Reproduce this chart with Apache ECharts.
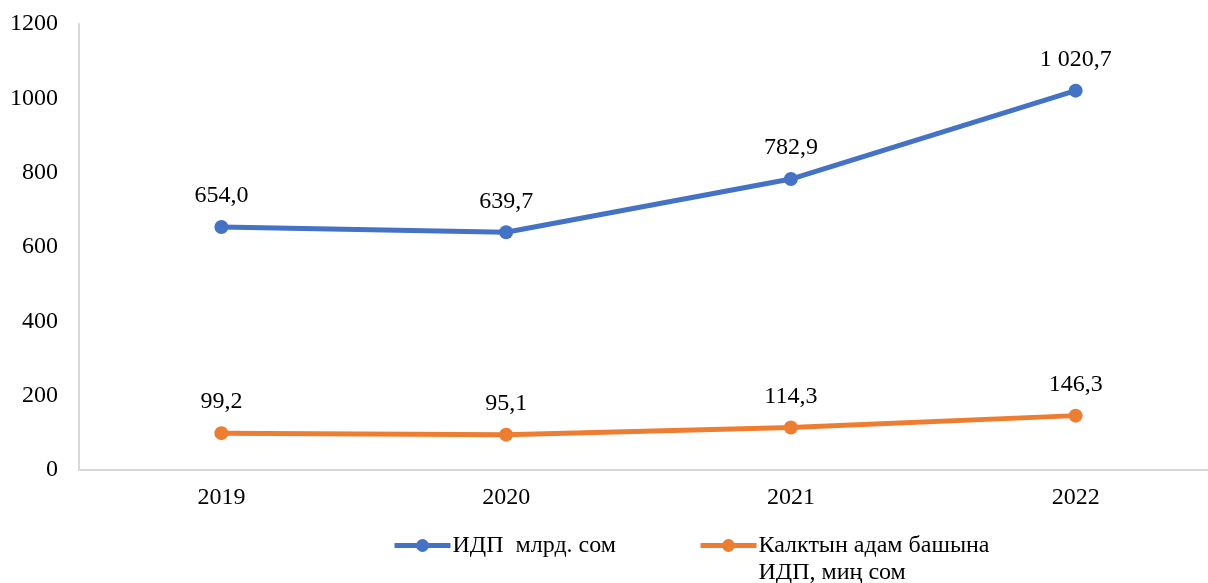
<!DOCTYPE html>
<html>
<head>
<meta charset="utf-8">
<script src="https://cdn.jsdelivr.net/npm/echarts@6/dist/echarts.min.js"></script>
<style>
    html, body { margin: 0; padding: 0; background: #fff; }
    #chart { width: 1208px; height: 583px; }
</style>
</head>
<body>
<div id="chart"></div>
<script>
// данные
var years = ['2019', '2020', '2021', '2022'];
var gdpTotal = [654.0, 639.7, 782.9, 1020.7];      // ИДП млрд. сом
var gdpPerCapita = [99.2, 95.1, 114.3, 146.3];     // миң сом
var yTicks = [0, 200, 400, 600, 800, 1000, 1200];

var nameTotal = 'ИДП  млрд. сом';
var namePerCapita = 'Калктын адам башына';

var font = '"Liberation Serif", "Times New Roman", serif';

function fmt(v) {
    var s = v.toFixed(1).split('.');
    var intPart = s[0].replace(/\B(?=(\d{3})+(?!\d))/g, ' ');
    return intPart + ',' + s[1];
}

var chart = echarts.init(document.getElementById('chart'));

var option = {
    animation: false,
    backgroundColor: '#fff',
    color: ['#4472C4', '#ED7D31'],
    grid: {
        left: 79,
        width: 1139,
        top: 24,
        bottom: 113,
        outerBoundsMode: 'none'
    },
    legend: [{
        data: [nameTotal],
        left: 387,
        top: 527,
        itemWidth: 56,
        itemHeight: 16,
        lineStyle: { width: 5 },
        textStyle: { fontFamily: font, fontSize: 24, color: '#000', lineHeight: 27, padding: [0, 0, 0, -3] }
    }, {
        data: [namePerCapita],
        left: 693,
        top: 500,
        itemWidth: 56,
        itemHeight: 16,
        lineStyle: { width: 5 },
        formatter: function() {
            return '\n' + namePerCapita + '\nИДП, миң сом';
        },
        textStyle: { fontFamily: font, fontSize: 24, color: '#000', lineHeight: 27, padding: [0, 0, 0, -3] }
    }],
    xAxis: {
        type: 'category',
        data: years,
        boundaryGap: true,
        axisLine: { show: true, lineStyle: { color: '#d9d9d9', width: 2 } },
        axisTick: { show: false },
        axisLabel: { fontFamily: font, fontSize: 24, color: '#000', margin: 16 }
    },
    yAxis: {
        type: 'value',
        min: yTicks[0],
        max: yTicks[yTicks.length - 1],
        interval: 200,
        axisLine: { show: true, lineStyle: { color: '#d9d9d9', width: 2 } },
        axisTick: { show: false },
        splitLine: { show: false },
        axisLabel: {
            fontFamily: font, fontSize: 24, color: '#000', margin: 21,
            formatter: function(v) { return String(v); }
        }
    },
    series: [{
        name: nameTotal,
        type: 'line',
        data: gdpTotal,
        symbol: 'circle',
        symbolSize: 14,
        lineStyle: { width: 5 },
        label: {
            show: true,
            position: 'top',
            distance: 12,
            fontFamily: font,
            fontSize: 24,
            color: '#000',
            formatter: function(p) { return fmt(p.value); }
        }
    }, {
        name: namePerCapita,
        type: 'line',
        data: gdpPerCapita,
        symbol: 'circle',
        symbolSize: 14,
        lineStyle: { width: 5 },
        label: {
            show: true,
            position: 'top',
            distance: 12,
            fontFamily: font,
            fontSize: 24,
            color: '#000',
            formatter: function(p) { return fmt(p.value); }
        }
    }]
};

chart.setOption(option);
</script>
</body>
</html>
